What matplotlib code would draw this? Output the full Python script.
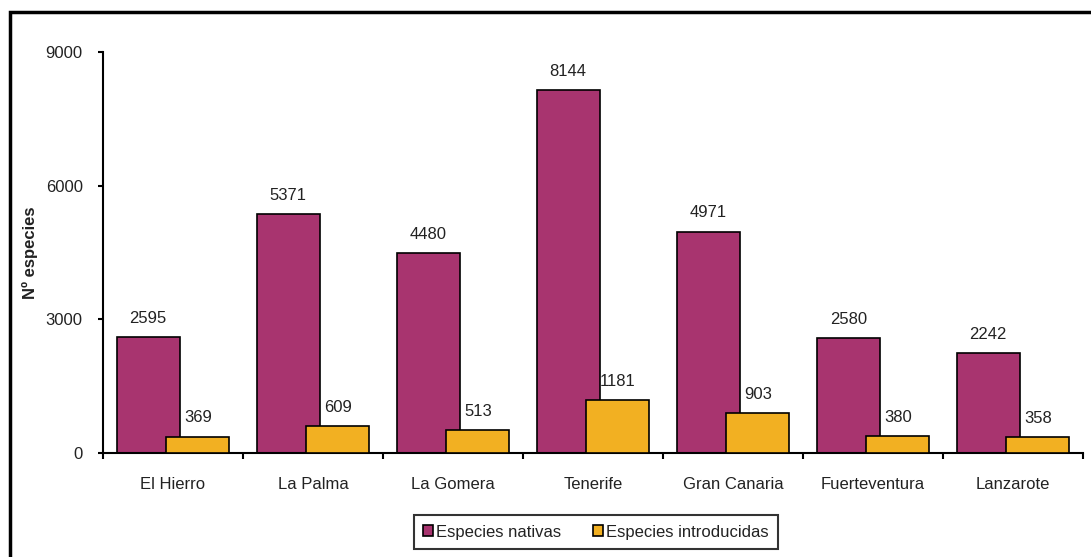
import matplotlib
matplotlib.use("Agg")
import matplotlib.pyplot as plt
from matplotlib.patches import Rectangle
import numpy as np

islands = ["El Hierro", "La Palma", "La Gomera", "Tenerife", "Gran Canaria",
           "Fuerteventura", "Lanzarote"]
nativas = [2595, 5371, 4480, 8144, 4971, 2580, 2242]
introducidas = [369, 609, 513, 1181, 903, 380, 358]
yticks = [0, 3000, 6000, 9000]

c_nat = "#A8346F"
c_int = "#F2B022"
txt = "#222222"
fs = 12

plt.rcParams["font.family"] = ["Liberation Sans", "DejaVu Sans"]

fig = plt.figure(figsize=(10.91, 5.57), dpi=100)
ax = fig.add_axes([103 / 1091, 1 - 453 / 557, 980 / 1091, 401 / 557])

x = np.arange(len(islands))
w = 0.45
off = 0.177
b1 = ax.bar(x - off, nativas, w, color=c_nat, edgecolor="black", linewidth=1.2,
            label="Especies nativas", zorder=2)
b2 = ax.bar(x + off, introducidas, w, color=c_int, edgecolor="black", linewidth=1.2,
            label="Especies introducidas", zorder=3)

for bars, vals in ((b1, nativas), (b2, introducidas)):
    for rect, v in zip(bars, vals):
        ax.annotate(str(v), (rect.get_x() + rect.get_width() / 2, v),
                    xytext=(0, 8), textcoords="offset points", ha="center",
                    va="bottom", fontsize=fs, color=txt)

ax.set_xlim(-0.5, len(islands) - 0.5)
ax.set_ylim(0, 9000)
ax.set_yticks(yticks)
ax.set_yticklabels([str(t) for t in yticks], fontsize=fs, color=txt)
ax.set_xticks(np.arange(len(islands) + 1) - 0.5)
ax.set_xticklabels([])
ax.set_xticks(x, minor=True)
ax.set_xticklabels(islands, minor=True, fontsize=fs, color=txt)
ax.tick_params(axis="x", which="minor", length=0, pad=17)
ax.tick_params(axis="x", which="major", length=4, width=1.5, direction="out")
ax.tick_params(axis="y", length=3.6, width=1.5, direction="out", pad=11)
for s in ("top", "right"):
    ax.spines[s].set_visible(False)
for s in ("left", "bottom"):
    ax.spines[s].set_linewidth(1.5)

# Axis title placed in figure coordinates
fig.text(30 / 1091, 1 - 253 / 557, "Nº especies", rotation=90, ha="center",
         va="center", fontsize=fs, fontweight="bold", color=txt)

leg = fig.legend(loc="center", bbox_to_anchor=(596 / 1091, 1 - 532 / 557),
                 ncol=2, fontsize=fs, frameon=True, fancybox=False,
                 handlelength=0.6, handleheight=0.6, handletextpad=0.2,
                 columnspacing=1.9, borderpad=0.55, edgecolor="black")
leg.get_frame().set_linewidth(1.5)
for t in leg.get_texts():
    t.set_color(txt)

fig.patches.append(Rectangle((10 / 1091, -0.05), 1.2, 1 - 12 / 557 + 0.05,
                             transform=fig.transFigure, fill=False,
                             edgecolor="black", linewidth=2.5))

fig.savefig("out.png", dpi=100, facecolor="white")
